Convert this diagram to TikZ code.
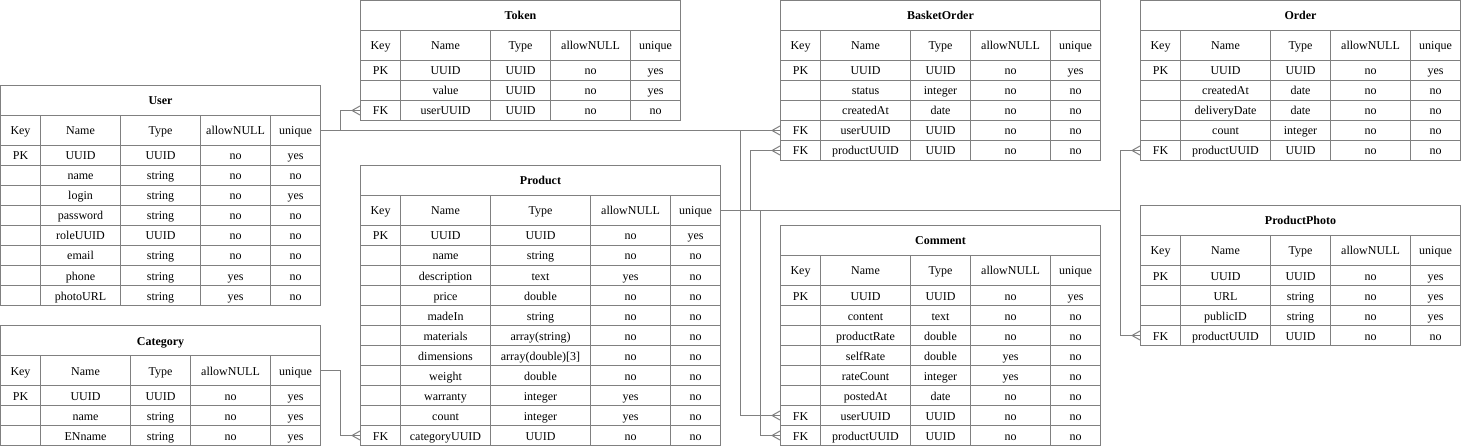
\documentclass[tikz,border=0pt]{standalone}
\usepackage{fontspec}
\setmainfont{Liberation Serif}
\usetikzlibrary{positioning,arrows.meta}

\definecolor{lineGray}{RGB}{128,128,128}

\tikzset{
  cell/.style={draw=lineGray, line width=1pt, inner sep=0pt, outer sep=0pt,
    minimum height=20pt, text height=10pt, text depth=1pt,
    font=\fontsize{12}{14}\selectfont},
  headcell/.style={cell, minimum height=30pt},
  titlecell/.style={headcell, font=\fontsize{12}{14}\selectfont\bfseries},
  link/.style={draw=lineGray, line width=1pt,
    -{Straight Barb[reversed, length=8pt, width=9pt]}, postaction={draw, -}},
}

% column widths: key, name, type, allowNULL, unique
\newcommand\setcols[5]{\def\wk{#1}\def\wn{#2}\def\wt{#3}\def\wa{#4}\def\wu{#5}}

% #1 id, #2 top left corner, #3 title, #4 rows
\newcommand\ertable[4]{%
  \pgfmathsetmacro\wall{\wk+\wn+\wt+\wa+\wu}
  \node[titlecell, minimum width=\wall pt, anchor=north west] (#1) at #2 {#3};
  \node[headcell, minimum width=\wk pt, anchor=north west] (#1-k0) at (#1.south west) {Key};
  \node[headcell, minimum width=\wn pt, right=0pt of #1-k0] (#1-n0) {Name};
  \node[headcell, minimum width=\wt pt, right=0pt of #1-n0] (#1-t0) {Type};
  \node[headcell, minimum width=\wa pt, right=0pt of #1-t0] (#1-a0) {allowNULL};
  \node[headcell, minimum width=\wu pt, right=0pt of #1-a0] (#1-hu) {unique};
  \foreach \k/\n/\t/\a/\u [count=\r] in {#4} {
    \pgfmathtruncatemacro\prevrow{\r-1}
    \node[cell, minimum width=\wk pt, below=0pt of #1-k\prevrow] (#1-k\r) {\k};
    \node[cell, minimum width=\wn pt, right=0pt of #1-k\r] (#1-n\r) {\n};
    \node[cell, minimum width=\wt pt, right=0pt of #1-n\r] (#1-t\r) {\t};
    \node[cell, minimum width=\wa pt, right=0pt of #1-t\r] (#1-a\r) {\a};
    \node[cell, minimum width=\wu pt, right=0pt of #1-a\r] (#1-u\r) {\u};
  }
}

\begin{document}
\begin{tikzpicture}[x=1pt, y=-1pt]
  \useasboundingbox (0,0) rectangle (1461,446);

  % tables
  \setcols{40}{80}{80}{70}{50}
  \ertable{user}{(0.5,85.5)}{User}{PK/UUID/UUID/no/yes, /name/string/no/no,
    /login/string/no/yes, /password/string/no/no, /roleUUID/UUID/no/no,
    /email/string/no/no, /phone/string/yes/no, /photoURL/string/yes/no}

  \setcols{40}{90}{60}{80}{50}
  \ertable{category}{(0.5,325.5)}{Category}{PK/UUID/UUID/no/yes,
    /name/string/no/yes, /ENname/string/no/yes}

  \ertable{token}{(360.5,0.5)}{Token}{PK/UUID/UUID/no/yes,
    /value/UUID/no/yes, FK/userUUID/UUID/no/no}

  \ertable{basket}{(780.5,0.5)}{BasketOrder}{PK/UUID/UUID/no/yes,
    /status/integer/no/no, /createdAt/date/no/no,
    FK/userUUID/UUID/no/no, FK/productUUID/UUID/no/no}

  \ertable{order}{(1140.5,0.5)}{Order}{PK/UUID/UUID/no/yes,
    /createdAt/date/no/no, /deliveryDate/date/no/no,
    /count/integer/no/no, FK/productUUID/UUID/no/no}

  \ertable{comment}{(780.5,225.5)}{Comment}{PK/UUID/UUID/no/yes,
    /content/text/no/no, /productRate/double/no/no, /selfRate/double/yes/no,
    /rateCount/integer/yes/no, /postedAt/date/no/no,
    FK/userUUID/UUID/no/no, FK/productUUID/UUID/no/no}

  \ertable{photo}{(1140.5,205.5)}{ProductPhoto}{PK/UUID/UUID/no/yes,
    /URL/string/no/yes, /publicID/string/no/yes, FK/productUUID/UUID/no/no}

  \setcols{40}{90}{100}{80}{50}
  \ertable{product}{(360.5,165.5)}{Product}{PK/UUID/UUID/no/yes,
    /name/string/no/no, /description/text/yes/no, /price/double/no/no,
    /madeIn/string/no/no, /materials/array(string)/no/no,
    /dimensions/array(double)[3]/no/no, /weight/double/no/no,
    /warranty/integer/yes/no, /count/integer/yes/no,
    FK/categoryUUID/UUID/no/no}

  % relations
  \draw[link] (user-hu.east) -- ++(20,0) |- (token-k3.west);
  \draw[link] (user-hu.east) -- (basket-k4.west);
  \draw[link] (user-hu.east) -- ++(420,0) |- (comment-k7.west);
  \draw[link] (category-hu.east) -- ++(20,0) |- (product-k11.west);
  \draw[link] (product-hu.east) -- ++(30,0) |- (basket-k5.west);
  \draw[link] (product-hu.east) -- ++(40,0) |- (comment-k8.west);
  \draw[link] (product-hu.east) -- ++(400,0) |- (order-k5.west);
  \draw[link] (product-hu.east) -- ++(400,0) |- (photo-k4.west);
\end{tikzpicture}
\end{document}
